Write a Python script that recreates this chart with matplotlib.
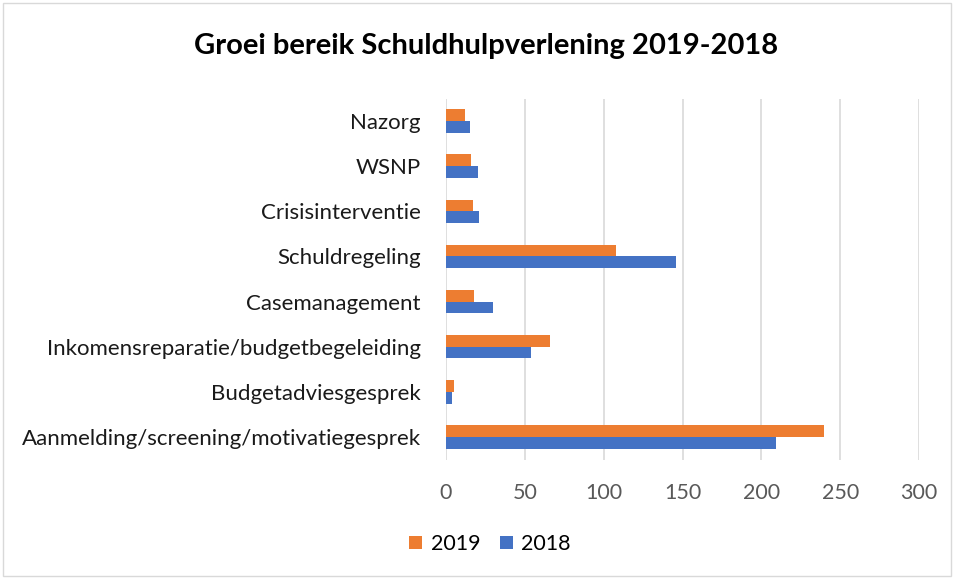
import numpy as np
import matplotlib.pyplot as plt
from matplotlib.patches import Rectangle

# data (bottom to top)
categories = ['Aanmelding/screening/motivatiegesprek', 'Budgetadviesgesprek',
              'Inkomensreparatie/budgetbegeleiding', 'Casemanagement',
              'Schuldregeling', 'Crisisinterventie', 'WSNP', 'Nazorg']
values_2019 = [240, 5, 66, 18, 108, 17, 16, 12]
values_2018 = [209, 4, 54, 30, 146, 21, 20, 15]
x_ticks = [0, 50, 100, 150, 200, 250, 300]

plt.rcParams['font.family'] = ['Lato', 'DejaVu Sans']

fig = plt.figure(figsize=(9.54, 5.78), dpi=100)
ax = fig.add_axes([446 / 954, 1 - 459.5 / 578, (919 - 446) / 954, 361 / 578])

y = np.arange(len(categories))
h = 0.26
ax.barh(y + h / 2, values_2019, height=h, color='#ED7D31', label='2019', zorder=3)
ax.barh(y - h / 2, values_2018, height=h, color='#4472C4', label='2018', zorder=3)

ax.set_xlim(0, 300)
ax.set_ylim(-0.5, len(categories) - 0.5)
ax.set_xticks(x_ticks)
ax.set_yticks(y)
ax.set_yticklabels(categories, fontsize=16, color='#1a1a1a')
ax.tick_params(axis='x', labelsize=15.5, labelcolor='#595959', length=0, pad=17)
ax.tick_params(axis='y', length=0, pad=18)
ax.grid(axis='x', color='#D9D9D9', linewidth=1.2, zorder=0)
for s in ax.spines.values():
    s.set_visible(False)

fig.text(486 / 954, 1 - 46 / 578, 'Groei bereik Schuldhulpverlening 2019-2018',
         ha='center', va='center', fontsize=21, fontweight='bold', color='black')

fig.legend(loc='center', bbox_to_anchor=(490 / 954, 1 - 544 / 578), ncol=2,
           frameon=False, fontsize=15.5, handlelength=0.6, handleheight=0.6,
           handletextpad=0.4, columnspacing=0.9)

fig.patches.append(Rectangle((3 / 954, 2 / 578), 948 / 954, 573 / 578,
                             transform=fig.transFigure, fill=False,
                             edgecolor='#D9D9D9', linewidth=1))

fig.savefig('out.png', dpi=100)
